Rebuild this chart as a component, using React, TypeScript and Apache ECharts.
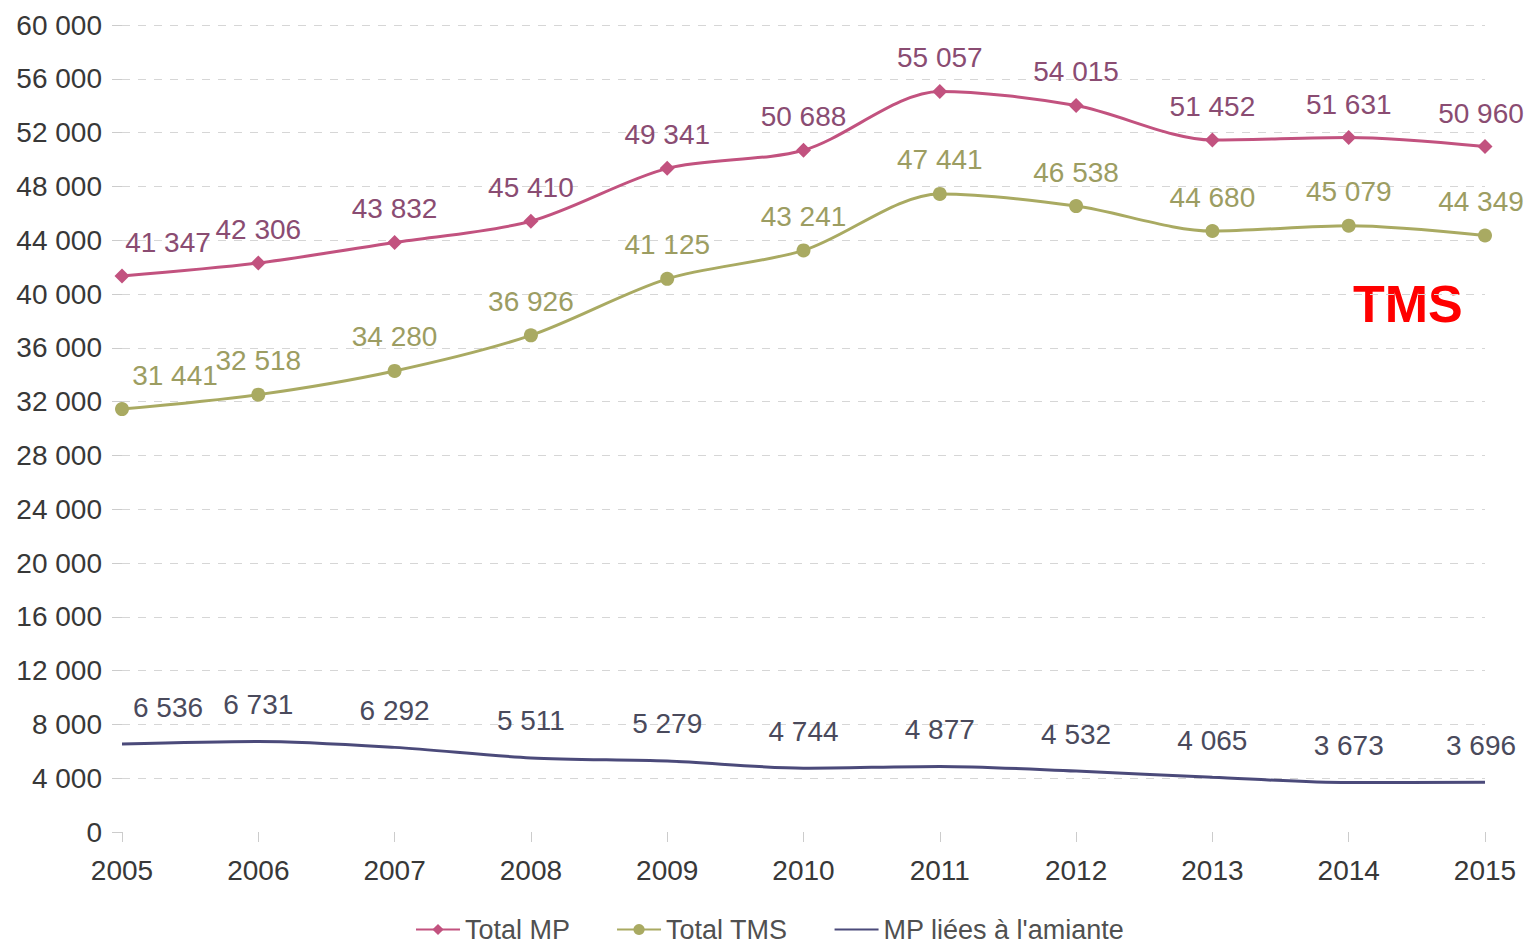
import React, { useEffect, useRef } from "react";
import * as echarts from "echarts";

const years = ["2005", "2006", "2007", "2008", "2009", "2010", "2011", "2012", "2013", "2014", "2015"];
const totalMP = [41347, 42306, 43832, 45410, 49341, 50688, 55057, 54015, 51452, 51631, 50960];
const totalTMS = [31441, 32518, 34280, 36926, 41125, 43241, 47441, 46538, 44680, 45079, 44349];
const amiante = [6536, 6731, 6292, 5511, 5279, 4744, 4877, 4532, 4065, 3673, 3696];

const FONT = "'Liberation Sans', Arial, sans-serif";
const FS = 28;
const fmt = (v: number) => String(v).replace(/\B(?=(\d{3})+(?!\d))/g, " ");

function withEdgeOffsets(values: number[], dxFirst: number, dxLast: number) {
  return values.map((v, i) => {
    if (i === 0) return { value: v, label: { offset: [dxFirst, 0] } };
    if (i === values.length - 1) return { value: v, label: { offset: [dxLast, 0] } };
    return v;
  });
}

export default function App() {
  const ref = useRef<HTMLDivElement>(null);
  useEffect(() => {
    document.body.style.margin = "0";
    const chart = echarts.init(ref.current!, null, { renderer: "svg" });
    const gridColors = Array.from({ length: 16 }, (_, i) => (i === 0 ? "rgba(0,0,0,0)" : "#d6d6d6"));
    const labelBase = {
      show: true,
      position: "top",
      fontFamily: FONT,
      fontSize: FS,
      formatter: (p: any) => fmt(p.value),
    };
    chart.setOption({
      animation: false,
      backgroundColor: "#ffffff",
      grid: { left: 122, right: 45, top: 25, bottom: 118 },
      legend: {
        top: 911,
        left: 410,
        itemWidth: 44,
        itemHeight: 14,
        itemGap: 46,
        textStyle: { fontFamily: FONT, fontSize: 27, color: "#505050" },
        data: ["Total MP", "Total TMS", "MP liées à l'amiante"],
      },
      xAxis: {
        type: "category",
        data: years,
        boundaryGap: false,
        axisLine: { show: false },
        axisTick: { show: true, length: 10, lineStyle: { color: "#cccccc" } },
        axisLabel: { margin: 24, fontFamily: FONT, fontSize: FS, color: "#383838" },
      },
      yAxis: {
        type: "value",
        min: 0,
        max: 60000,
        interval: 4000,
        axisLine: { show: false },
        axisTick: { show: true, length: 10, lineStyle: { color: "#cccccc" } },
        axisLabel: { margin: 20, fontFamily: FONT, fontSize: FS, color: "#383838", formatter: (v: number) => fmt(v) },
        splitLine: { show: true, lineStyle: { type: [8, 8], color: gridColors, width: 1.2 } },
      },
      series: [
        {
          name: "Total MP",
          type: "line",
          smooth: 0.3,
          data: withEdgeOffsets(totalMP, 46, -4),
          symbol: "diamond",
          symbolSize: 15,
          lineStyle: { color: "#c2527f", width: 3 },
          itemStyle: { color: "#c2527f" },
          label: { ...labelBase, distance: 12, color: "#8a4c72" },
        },
        {
          name: "Total TMS",
          type: "line",
          smooth: 0.3,
          data: withEdgeOffsets(totalTMS, 53, -4),
          symbol: "circle",
          symbolSize: 14,
          lineStyle: { color: "#a9aa62", width: 3 },
          itemStyle: { color: "#a9aa62" },
          label: { ...labelBase, distance: 13, color: "#9c9d62" },
        },
        {
          name: "MP liées à l'amiante",
          type: "line",
          smooth: 0.3,
          data: withEdgeOffsets(amiante, 46, -4),
          symbol: "circle",
          showSymbol: true,
          symbolSize: 2,
          lineStyle: { color: "#4b4a7a", width: 3 },
          itemStyle: { color: "rgba(0,0,0,0)" },
          label: { ...labelBase, distance: 22, color: "#4a4a5c" },
        },
      ],
      graphic: [
        {
          type: "text",
          left: 1353,
          top: 278,
          style: {
            text: "TMS",
            fontFamily: FONT,
            fontWeight: "bold",
            fontSize: 52,
            fill: "#ff0000",
          },
        },
      ],
    });
    return () => chart.dispose();
  }, []);
  return <div ref={ref} style={{ width: 1530, height: 950 }} />;
}
